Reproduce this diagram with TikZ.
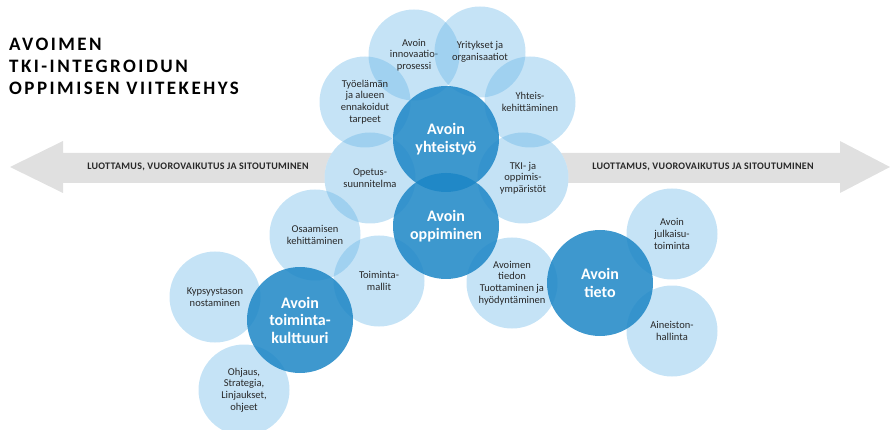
\documentclass[tikz,border=0pt]{standalone}
\usepackage{fontspec}
\setmainfont{Carlito}
\newfontfamily\titlefont[LetterSpace=13]{Carlito}
\newfontfamily\bandfont[LetterSpace=3]{Carlito}
\definecolor{petalblue}{RGB}{94,177,230}
\definecolor{coreblue}{RGB}{28,134,198}
\definecolor{bandgray}{RGB}{224,224,224}
\definecolor{inkgray}{RGB}{40,40,40}
\begin{document}
\begin{tikzpicture}[x=1pt,y=-1pt,
    petal/.style={circle,minimum size=91pt,inner sep=0pt,fill=petalblue,fill opacity=0.36,
                  text opacity=1,text=inkgray,align=center,font=\fontsize{10.5}{11.7}\selectfont},
    core/.style={circle,minimum size=106pt,inner sep=0pt,fill=coreblue,fill opacity=0.85,
                 text opacity=1,text=white,align=center,font=\fontsize{16}{17.5}\selectfont\bfseries},
    bandtext/.style={text=inkgray,font=\fontsize{10}{11}\bandfont\bfseries}]
  \useasboundingbox (0,0) rectangle (891,430);
  \coordinate (c-yhteistyo) at (446,139);
  \coordinate (c-oppiminen) at (446,226);
  \coordinate (c-opetus) at (370,178);
  \coordinate (c-tki) at (523,178);
  % kaksipainen nuoli
  \fill[bandgray] (10,167) -- (63,141) -- (63,153) -- (840,153) -- (840,141) -- (890,167)
                  -- (840,193) -- (840,183) -- (63,183) -- (63,193) -- cycle;
  \node[bandtext] (luottamus-v) at (198,167) {LUOTTAMUS, VUOROVAIKUTUS JA SITOUTUMINEN};
  \node[bandtext] (luottamus-o) at (703,167) {LUOTTAMUS, VUOROVAIKUTUS JA SITOUTUMINEN};
  \foreach \c/\r in {opetus/45.5,tki/45.5,yhteistyo/53,oppiminen/53}
    \fill[white] (c-\c) circle (\r);
  % otsikko
  \node[anchor=north west,inner sep=0pt,align=left,text=black,
        font=\fontsize{19}{21.7}\titlefont\bfseries] (otsikko) at (9,38)
        {AVOIMEN\\TKI-INTEGROIDUN\\OPPIMISEN VIITEKEHYS};
  % vaaleat ympyrat
  \node[petal] (innovaatio) at (414,55) {Avoin\\innovaatio-\\prosessi};
  \node[petal] (yritykset) at (480,52) {Yritykset ja\\organisaatiot};
  \node[petal] (tyoelama) at (365,102) {Työelämän\\ja alueen\\ennakoidut\\tarpeet};
  \node[petal] (yhteis) at (530,102) {Yhteis-\\kehittäminen};
  \node[petal] (opetus) at (c-opetus) {Opetus-\\suunnitelma};
  \node[petal] (tki) at (c-tki) {TKI- ja\\oppimis-\\ympäristöt};
  \node[petal] (osaaminen) at (315,235) {Osaamisen\\kehittäminen};
  \node[petal] (mallit) at (379,281) {Toiminta-\\mallit};
  \node[petal] (kypsyys) at (215,297) {Kypsyystason\\nostaminen};
  \node[petal] (ohjaus) at (244,390) {Ohjaus,\\Strategia,\\Linjaukset,\\ohjeet};
  \node[petal] (tiedon) at (512,283) {Avoimen\\tiedon\\Tuottaminen ja\\hyödyntäminen};
  \node[petal] (julkaisu) at (672,234) {Avoin\\julkaisu-\\toiminta};
  \node[petal] (aineisto) at (672,331) {Aineiston-\\hallinta};
  % tummat ympyrat
  \node[core] (yhteistyo) at (c-yhteistyo) {Avoin\\yhteistyö};
  \node[core] (oppiminen) at (c-oppiminen) {Avoin\\oppiminen};
  \node[core] (kulttuuri) at (300,320) {Avoin\\toiminta-\\kulttuuri};
  \node[core] (tieto) at (600,283) {Avoin\\tieto};
\end{tikzpicture}
\end{document}
